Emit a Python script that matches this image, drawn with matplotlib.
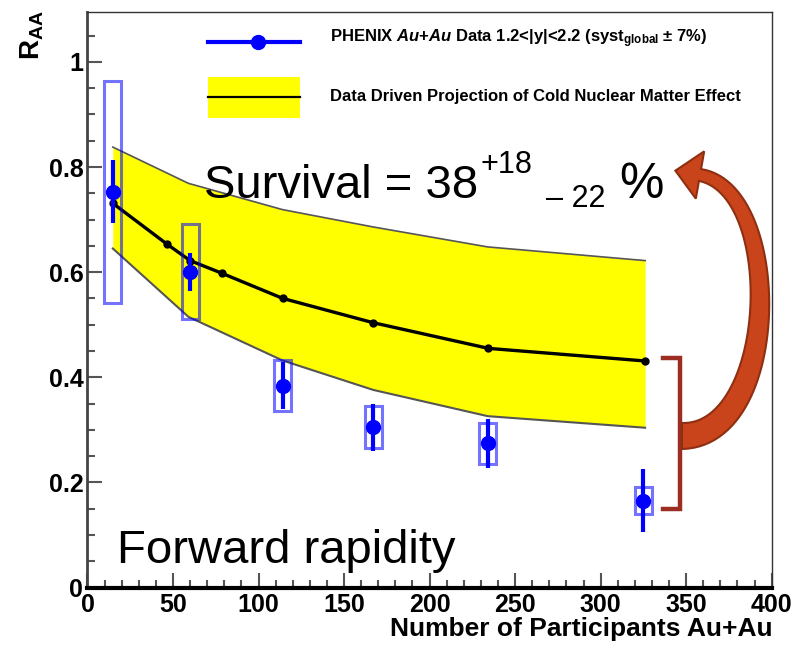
import numpy as np
import matplotlib
matplotlib.use("Agg")
import matplotlib.pyplot as plt
from matplotlib.patches import Rectangle, Polygon
from matplotlib.ticker import MultipleLocator, FuncFormatter

plt.rcParams['font.family'] = ['Liberation Sans', 'DejaVu Sans']
plt.rcParams['mathtext.fontset'] = 'custom'
plt.rcParams['mathtext.rm'] = 'Liberation Sans:bold'
plt.rcParams['mathtext.it'] = 'Liberation Sans:italic:bold'
plt.rcParams['mathtext.bf'] = 'Liberation Sans:bold'

# PHENIX Au+Au forward rapidity data
npart = [14.8, 60.0, 114.2, 167.1, 234.0, 325.0]
raa = [0.753, 0.601, 0.384, 0.305, 0.274, 0.165]
stat_err = [0.060, 0.036, 0.045, 0.045, 0.046, 0.060]
syst_err = [0.211, 0.090, 0.048, 0.040, 0.039, 0.026]

# cold nuclear matter projection (central line and band)
cnm_x = [14.8, 46.6, 60.0, 78.5, 114.2, 166.8, 234.4, 326.0]
cnm_y = [0.731, 0.653, 0.622, 0.598, 0.550, 0.504, 0.455, 0.431]
band_x = [14.8, 59.0, 114.0, 167.0, 234.0, 326.0]
band_hi = [0.838, 0.769, 0.719, 0.686, 0.648, 0.622]
band_lo = [0.645, 0.515, 0.432, 0.376, 0.326, 0.304]

W, H = 803, 648


def px(x, y):
    # picture pixel (y down) -> figure fraction
    return x / W, 1 - y / H


fig = plt.figure(figsize=(W / 100, H / 100), dpi=100, facecolor='w')
x0, y0, x1, y1 = 87.5, 12.0, 771.7, 587.5
ax = fig.add_axes([x0 / W, 1 - y1 / H, (x1 - x0) / W, (y1 - y0) / H])

ax.set_xlim(0, 400)
ax.set_ylim(0, 1.095)

# band + central curve
ax.fill_between(band_x, band_lo, band_hi, color='#ffff00', lw=0, zorder=1)
ax.plot(band_x, band_hi, color='#555555', lw=1.2, zorder=2)
ax.plot(band_x, band_lo, color='#555555', lw=1.5, zorder=2)
ax.plot(cnm_x, cnm_y, color='k', lw=2.4, marker='o', ms=5, zorder=3)

# systematic boxes
for xi, yi, si in zip(npart, raa, syst_err):
    ax.add_patch(Rectangle((xi - 5, yi - si), 10, 2 * si, fill=False,
                           ec=(0, 0, 1, 0.55), lw=2.2, zorder=4))

ax.errorbar(npart, raa, yerr=stat_err, fmt='o', color='#0000ff', ms=10,
            elinewidth=3, capsize=0, zorder=5)

# axes styling
for side in ['top', 'right']:
    ax.spines[side].set_linewidth(1.0)
    ax.spines[side].set_color('#333333')
ax.spines['bottom'].set_linewidth(3)
ax.spines['bottom'].set_color('k')
ax.spines['left'].set_linewidth(2)
ax.spines['left'].set_color('#444444')

ax.xaxis.set_major_locator(MultipleLocator(50))
ax.xaxis.set_minor_locator(MultipleLocator(10))
ax.yaxis.set_major_locator(MultipleLocator(0.2))
ax.yaxis.set_minor_locator(MultipleLocator(0.05))
ax.yaxis.set_major_formatter(FuncFormatter(lambda v, p: '%g' % round(v, 2)))
ax.tick_params(which='both', direction='in', color='#555555', width=1.5)
ax.tick_params(which='major', length=11, labelsize=18, pad=4)
ax.tick_params(which='minor', length=6)
ax.tick_params(axis='y', which='major', pad=3)
for lab in ax.get_xticklabels() + ax.get_yticklabels():
    lab.set_fontweight('bold')

fig.text(*px(773, 629), 'Number of Participants Au+Au', ha='right', va='center',
         fontsize=19, fontweight='bold')
fig.text(*px(32, 10), r'$\mathbf{R}_{\mathbf{AA}}$', ha='center', va='top',
         rotation=90, fontsize=20)

# legend (drawn by hand, no frame)
ax.plot([px(208, 42)[0], px(300, 42)[0]], [px(208, 42)[1]] * 2, color='#0000ff',
        lw=3, transform=fig.transFigure, clip_on=False)
ax.plot([px(258, 42)[0]], [px(258, 42)[1]], 'o', color='#0000ff', ms=10,
        transform=fig.transFigure, clip_on=False)
fig.text(*px(330, 39), r'PHENIX $\mathit{Au}$+$\mathit{Au}$ Data 1.2<|y|<2.2 (syst$_{\mathrm{global}}$ ± 7%)',
         ha='left', va='center', fontsize=12, fontweight='bold')
fx, fy = px(208, 118)
ax.add_patch(Rectangle((fx, fy), 92 / W, 41 / H, color='#ffff00', lw=0,
                       transform=fig.transFigure, clip_on=False, zorder=6))
ax.plot([px(208, 97)[0], px(300, 97)[0]], [px(208, 97)[1]] * 2, color='k', lw=1.6,
        transform=fig.transFigure, clip_on=False, zorder=7)
fig.text(*px(330, 97), 'Data Driven Projection of Cold Nuclear Matter Effect',
         ha='left', va='center', fontsize=12, fontweight='bold')

# annotations
fig.text(*px(204, 198), 'Survival = 38', ha='left', va='baseline', fontsize=34)
fig.text(*px(481, 173), '+18', ha='left', va='baseline', fontsize=22)
fig.text(*px(546, 207), '\u2013 22', ha='left', va='baseline', fontsize=22)
fig.text(*px(619, 198), '%', ha='left', va='baseline', fontsize=36)
fig.text(*px(117, 563), 'Forward rapidity', ha='left', va='baseline', fontsize=34)

# bracket
bx = [663, 680, 680, 663]
by = [358, 358, 509, 509]
bpts = [px(a, b) for a, b in zip(bx, by)]
ax.plot([p[0] for p in bpts], [p[1] for p in bpts], color='#9b2d22', lw=3.2,
        solid_joinstyle='miter', transform=fig.transFigure, clip_on=False)

# curved arrow from bracket back to the text
P = np.array([[682, 436], [780, 436], [785, 190], [700, 175]], float)
t = np.linspace(0, 1, 60)[:, None]
c = ((1 - t) ** 3 * P[0] + 3 * (1 - t) ** 2 * t * P[1]
     + 3 * (1 - t) * t ** 2 * P[2] + t ** 3 * P[3])
d = (3 * (1 - t) ** 2 * (P[1] - P[0]) + 6 * (1 - t) * t * (P[2] - P[1])
     + 3 * t ** 2 * (P[3] - P[2]))
d = d / np.linalg.norm(d, axis=1)[:, None]
nrm = np.column_stack([-d[:, 1], d[:, 0]])
half = (13 - 7 * t[:, 0])[:, None]
side1 = c + nrm * half
side2 = c - nrm * half
tip = P[3] + d[-1] * 25
b1 = P[3] + nrm[-1] * 24
b2 = P[3] - nrm[-1] * 24
outline = np.vstack([side1, b1, tip, b2, side2[::-1]])
outline = np.array([px(a, b) for a, b in outline])
fig.add_artist(Polygon(outline, closed=True, fc='#c9441a', ec='#8e2f12', lw=1.5,
                       transform=fig.transFigure))

fig.savefig('out.png', dpi=100)
